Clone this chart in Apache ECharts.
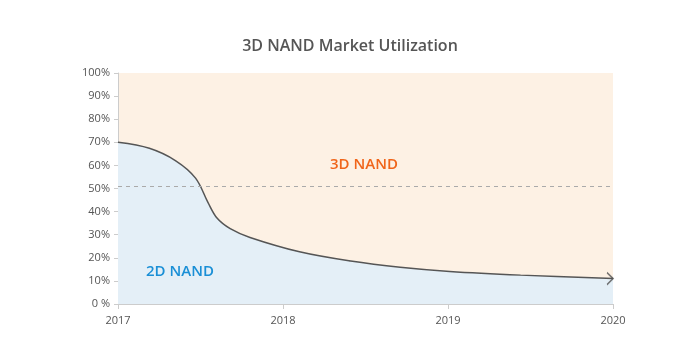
<!DOCTYPE html>
<html>
<head>
<meta charset="utf-8">
<script src="https://cdn.jsdelivr.net/npm/echarts@6/dist/echarts.min.js"></script>
<style>html,body{margin:0;padding:0;background:#fff}#c{width:700px;height:350px}</style>
</head>
<body>
<div id="c"></div>
<script>
const years = [2017.00, 2017.19, 2017.35, 2017.47, 2017.545, 2017.60, 2017.68, 2017.80, 2018.10, 2018.41, 2018.71, 2019.01, 2019.44, 2020.00];
const share2D = [70, 67.4, 62, 54.5, 44, 37.2, 32.6, 28.8, 22.6, 18.6, 15.9, 14.1, 12.5, 11.0];
const xTicks = [2017, 2018, 2019, 2020];
const refLine = 51;
const titleText = '3D NAND Market Utilization';
const label3D = '3D NAND';
const label2D = '2D NAND';

const pts = years.map((y, i) => [y, share2D[i]]);
const font = "'Open Sans', sans-serif";
const chart = echarts.init(document.getElementById('c'));
chart.setOption({
  animation: false,
  title: { text: titleText, left: 'center', top: 33, textStyle: { fontFamily: font, fontSize: 16, fontWeight: 600, color: '#555' } },
  grid: { left: 118, right: 87, top: 73, bottom: 46, show: true, backgroundColor: '#fdf1e4', borderWidth: 0 },
  xAxis: {
    type: 'value', min: xTicks[0], max: xTicks[xTicks.length - 1], interval: 1,
    axisLine: { lineStyle: { color: '#ccc' } },
    axisTick: { show: true, length: 5, lineStyle: { color: '#ccc' } },
    splitLine: { show: false },
    axisLabel: { color: '#555', fontFamily: font, fontSize: 11, margin: 11, formatter: v => String(v) }
  },
  yAxis: {
    type: 'value', min: 0, max: 100, interval: 10,
    axisLine: { show: true, lineStyle: { color: '#ccc' } },
    axisTick: { show: true, length: 4, lineStyle: { color: '#ccc' } },
    splitLine: { show: false },
    axisLabel: { color: '#555', fontFamily: font, fontSize: 11, margin: 8, formatter: v => v === 0 ? '0 %' : v + '%' }
  },
  series: [
    {
      type: 'line', data: pts, smooth: 0.35, symbol: 'none',
      lineStyle: { color: '#555', width: 1.5 },
      areaStyle: { color: '#e4eff7', opacity: 1 },
      markLine: {
        silent: true, symbol: 'none', label: { show: false },
        lineStyle: { color: '#aaa', type: [4, 4], width: 1 },
        data: [{ yAxis: refLine }]
      },
      z: 2
    },
    {
      type: 'scatter', data: [pts[pts.length - 1]],
      symbol: 'path://M0,0 L6,6 L0,12', symbolSize: [6, 12], symbolOffset: [-3, 0],
      itemStyle: { color: 'none', borderColor: '#555', borderWidth: 1.5 },
      z: 3, silent: true
    }
  ],
  graphic: [
    { type: 'text', z: 100, left: 330, top: 157, style: { text: label3D, font: "600 15px 'Open Sans', sans-serif", fill: '#f0651a' } },
    { type: 'text', z: 100, left: 146, top: 264, style: { text: label2D, font: "600 15px 'Open Sans', sans-serif", fill: '#1a8fd6' } }
  ]
});
</script>
</body>
</html>
